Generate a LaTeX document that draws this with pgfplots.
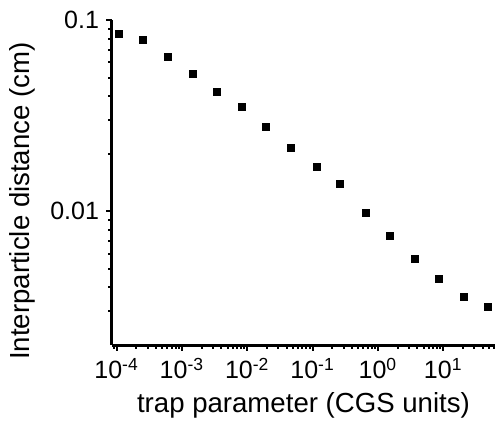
\documentclass[border=0pt]{standalone}
\usepackage{pgfplots}
\pgfplotsset{compat=1.18}
\usepackage{fontspec}
\setmainfont{Liberation Sans}

\begin{document}
\begin{tikzpicture}
\begin{axis}[
    scale only axis,
    width=191.5pt,
    height=162.5pt,
    xmode=log, ymode=log,
    xmin=8.5e-5, xmax=62,
    ymin=0.002, ymax=0.1,
    axis x line*=bottom,
    axis y line*=left,
    axis line style={line width=1.5pt, -},
    tick align=outside,
    major tick length=3pt,
    minor tick length=1.8pt,
    every tick/.style={black, line width=1pt},
    xtick={1e-4,1e-3,1e-2,1e-1,1,10},
    minor xtick={9e-5,2e-4,3e-4,4e-4,5e-4,6e-4,7e-4,8e-4,9e-4,
                 2e-3,3e-3,4e-3,5e-3,6e-3,7e-3,8e-3,9e-3,
                 2e-2,3e-2,4e-2,5e-2,6e-2,7e-2,8e-2,9e-2,
                 0.2,0.3,0.4,0.5,0.6,0.7,0.8,0.9,
                 2,3,4,5,6,7,8,9,20,30,40,50,60},
    xticklabel={10\textsuperscript{\pgfmathparse{int(round(\tick/ln(10)))}\pgfmathresult}},
    ytick={0.01,0.1},
    yticklabels={0.01,0.1},
    minor ytick={0.003,0.004,0.005,0.006,0.007,0.008,0.009,
                 0.02,0.03,0.04,0.05,0.06,0.07,0.08,0.09},
    tick label style={font=\fontsize{12.5}{14}\selectfont},
    xlabel={trap parameter (CGS units)},
    ylabel={Interparticle distance (cm)},
    label style={font=\fontsize{13.8}{16}\selectfont},
    xlabel style={at={(axis description cs:0.5,-0.185)}, anchor=center},
    ylabel style={at={(axis description cs:-0.235,0.443)}, anchor=center},
    clip=false,
]
\addplot[only marks, mark=square*, mark size=1.75pt, color=black] coordinates {
    (1.07e-4,0.0851) (2.57e-4,0.0783) (6.17e-4,0.0638) (1.45e-3,0.0522)
    (3.47e-3,0.0422) (8.32e-3,0.0351) (1.95e-2,0.0275) (4.68e-2,0.0214)
    (0.115,0.0170) (0.263,0.0139) (0.646,0.00986) (1.55,0.00747)
    (3.63,0.00564) (8.71,0.00441) (20.9,0.00358) (49.0,0.00315)
};
\end{axis}
\pgfresetboundingbox
\path (current axis.south west) ++(-56pt,-37.5pt) rectangle ++(247.5pt,210pt);
\end{tikzpicture}
\end{document}
